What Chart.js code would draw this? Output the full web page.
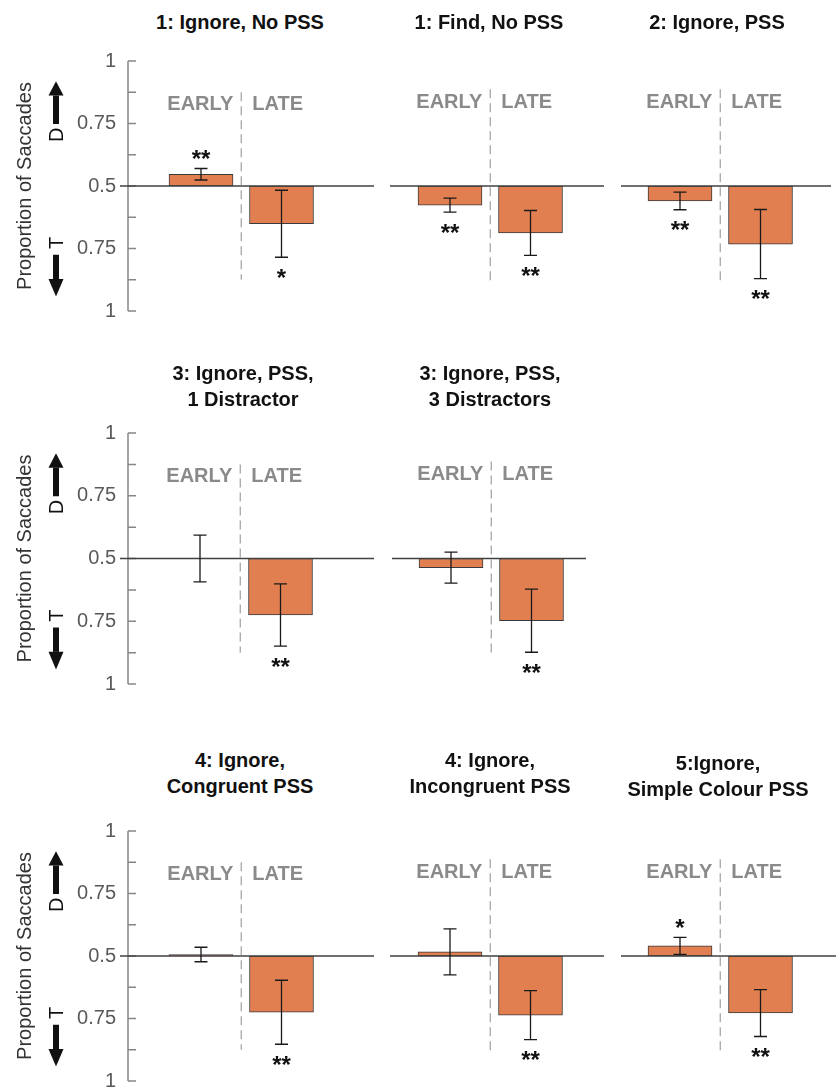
<!DOCTYPE html>
<html>
<head>
<meta charset="utf-8">
<script src="https://cdn.jsdelivr.net/npm/chart.js@4/dist/chart.umd.min.js"></script>
<style>
  body { margin: 0; background: #fff; }
  #wrap { position: relative; width: 836px; height: 1091px; overflow: hidden; }
  #wrap canvas { position: absolute; }
  .ttl { position: absolute; width: 260px; text-align: center; font: bold 20px "Liberation Sans", Arial, sans-serif; line-height: 26px; color: #111; }
</style>
</head>
<body>
<div id="wrap"></div>
<script>
// Data (proportion of saccades to the distractor)
const panelTitles = [
  ['1: Ignore, No PSS'],
  ['1: Find, No PSS'],
  ['2: Ignore, PSS'],
  ['3: Ignore, PSS,', '1 Distractor'],
  ['3: Ignore, PSS,', '3 Distractors'],
  ['4: Ignore,', 'Congruent PSS'],
  ['4: Ignore,', 'Incongruent PSS'],
  ['5:Ignore,', 'Simple Colour PSS']
];
const phases = ['EARLY', 'LATE'];
const earlyMean = [0.547, 0.426, 0.442, 0.500, 0.465, 0.506, 0.516, 0.539];
const lateMean  = [0.349, 0.318, 0.275, 0.275, 0.260, 0.275, 0.271, 0.279];
const earlyErr  = [0.023, 0.027, 0.034, 0.093, 0.060, 0.029, 0.089, 0.033];
const lateErr   = [0.134, 0.087, 0.134, 0.124, 0.122, 0.128, 0.095, 0.091];
const earlySig  = ['**', '**', '**', '', '', '', '', '*'];
const lateSig   = ['*', '**', '**', '**', '**', '**', '**', '**'];
const tickValues = [0, 0.25, 0.5, 0.75, 1];

// Layout of the panels on the page
const rowTop = [57, 429, 827];
const rowBottom = [315, 688, 1085];
const panelBox = [
  { row: 0, left: 128, right: 374, early: 201, axis: true },
  { row: 0, left: 390, right: 604, early: 450 },
  { row: 0, left: 621, right: 831, early: 680 },
  { row: 1, left: 128, right: 374, early: 200, axis: true },
  { row: 1, left: 392, right: 586, early: 451 },
  { row: 2, left: 128, right: 374, early: 201, axis: true },
  { row: 2, left: 390, right: 604, early: 450 },
  { row: 2, left: 621, right: 836, early: 680 }
];
const titlePos = [[240, 22], [489, 22], [717, 22], [243, 373], [490, 373], [240, 760], [490, 760], [718, 763]];
const unitPx = 80.5;

const FONT = '"Liberation Sans", Arial, sans-serif';
const wrap = document.getElementById('wrap');

// Decorations: axis line, zero line, divider, phase labels, error bars, stars
const panelDecor = {
  id: 'panelDecor',
  afterDatasetsDraw(chart, args, opts) {
    const i = opts.index;
    const ctx = chart.ctx;
    const x = chart.scales.x, y = chart.scales.y;
    const area = chart.chartArea;
    ctx.save();

    // vertical axis with inward ticks
    if (opts.axis) {
      ctx.strokeStyle = '#868686';
      ctx.lineWidth = 1.5;
      ctx.beginPath();
      ctx.moveTo(area.left, y.getPixelForValue(0));
      ctx.lineTo(area.left, y.getPixelForValue(1));
      for (let v = 0; v <= 1.0001; v += 0.125) {
        const py = y.getPixelForValue(v);
        ctx.moveTo(area.left, py);
        ctx.lineTo(area.left + 8, py);
      }
      ctx.stroke();

      // D / T direction arrows
      const ax = area.left - 72;
      ctx.fillStyle = '#111';
      const arrow = (from, base, tip) => {
        const pf = y.getPixelForValue(from), pb = y.getPixelForValue(base), pt = y.getPixelForValue(tip);
        ctx.fillRect(ax - 3, Math.min(pf, pb), 6, Math.abs(pb - pf));
        ctx.beginPath();
        ctx.moveTo(ax - 7.5, pb);
        ctx.lineTo(ax + 7.5, pb);
        ctx.lineTo(ax, pt);
        ctx.closePath();
        ctx.fill();
      };
      arrow(0.748, 0.862, 0.919);
      arrow(0.225, 0.128, 0.058);
      ctx.font = '20px ' + FONT;
      ctx.textAlign = 'center';
      ctx.textBaseline = 'middle';
      [['D', 0.705], ['T', 0.272]].forEach(([t, v]) => {
        ctx.save();
        ctx.translate(ax + 1, y.getPixelForValue(v));
        ctx.rotate(-Math.PI / 2);
        ctx.fillText(t, 0, 0);
        ctx.restore();
      });
    }

    // zero (0.5) line
    const py0 = y.getPixelForValue(0.5);
    ctx.strokeStyle = '#404040';
    ctx.lineWidth = 1.5;
    ctx.beginPath();
    ctx.moveTo(opts.axis ? area.left - 8 : area.left, py0);
    ctx.lineTo(area.right, py0);
    ctx.stroke();

    // dashed divider between EARLY and LATE
    const divX = x.getPixelForValue(0.5);
    ctx.strokeStyle = '#a0a0a0';
    ctx.lineWidth = 1.2;
    ctx.setLineDash([9, 5]);
    ctx.beginPath();
    ctx.moveTo(divX, y.getPixelForValue(0.875));
    ctx.lineTo(divX, y.getPixelForValue(0.125));
    ctx.stroke();
    ctx.setLineDash([]);

    // phase labels
    ctx.font = 'bold 20px ' + FONT;
    ctx.fillStyle = '#8a8a8a';
    ctx.textBaseline = 'middle';
    const ly = y.getPixelForValue(0.825);
    ctx.textAlign = 'right';
    ctx.fillText(phases[0], divX - 8, ly);
    ctx.textAlign = 'left';
    ctx.fillText(phases[1], divX + 11, ly);

    // error bars and significance stars
    const means = [earlyMean[i], lateMean[i]];
    const errs = [earlyErr[i], lateErr[i]];
    const sigs = [earlySig[i], lateSig[i]];
    ctx.strokeStyle = '#1a1a1a';
    ctx.lineWidth = 1.3;
    means.forEach((m, k) => {
      const px = x.getPixelForValue(k);
      const top = y.getPixelForValue(m + errs[k]);
      const bot = y.getPixelForValue(m - errs[k]);
      ctx.beginPath();
      ctx.moveTo(px, top); ctx.lineTo(px, bot);
      ctx.moveTo(px - 6.5, top); ctx.lineTo(px + 6.5, top);
      ctx.moveTo(px - 6.5, bot); ctx.lineTo(px + 6.5, bot);
      ctx.stroke();
      if (sigs[k]) {
        ctx.font = 'bold 24px ' + FONT;
        ctx.fillStyle = '#111';
        ctx.textAlign = 'center';
        ctx.textBaseline = 'alphabetic';
        const c = m > 0.5 ? top - 15 : bot + 15;
        ctx.fillText(sigs[k], px, c + 0.57 * 24);
      }
    });
    ctx.restore();
  }
};

panelBox.forEach((b, i) => {
  const top = rowTop[b.row], bottom = rowBottom[b.row];
  const cLeft = b.axis ? 0 : b.left - 10;
  const canvas = document.createElement('canvas');
  canvas.width = b.right + 10 - cLeft;
  canvas.height = bottom - top + 40;
  canvas.style.left = cLeft + 'px';
  canvas.style.top = (top - 20) + 'px';
  wrap.appendChild(canvas);

  const t = document.createElement('div');
  t.className = 'ttl';
  t.style.left = (titlePos[i][0] - 130) + 'px';
  t.style.top = (titlePos[i][1] - 13) + 'px';
  t.innerHTML = panelTitles[i].join('<br>');
  wrap.appendChild(t);

  new Chart(canvas.getContext('2d'), {
    type: 'bar',
    data: {
      datasets: [{
        data: [{ x: 0, y: earlyMean[i] }, { x: 1, y: lateMean[i] }],
        base: 0.5,
        backgroundColor: '#e27f50',
        borderColor: '#3a3a3a',
        borderWidth: 1,
        borderSkipped: false,
        barThickness: 64
      }]
    },
    options: {
      responsive: false,
      animation: false,
      layout: { padding: { left: b.axis ? 0 : 10, right: 10, top: 20, bottom: 20 } },
      scales: {
        x: {
          type: 'linear',
          display: false,
          offset: false,
          bounds: 'data',
          min: -(b.early - b.left) / unitPx,
          max: (b.right - b.early) / unitPx
        },
        y: {
          display: !!b.axis,
          min: 0,
          max: 1,
          afterFit(scale) { if (b.axis) scale.width = 128; },
          afterBuildTicks(scale) { scale.ticks = tickValues.map(v => ({ value: v })); },
          grid: { display: false, drawTicks: false },
          border: { display: false },
          ticks: {
            padding: 12,
            color: '#595959',
            font: { family: FONT, size: 20 },
            callback: v => String(Math.round((v >= 0.5 ? v : 1 - v) * 100) / 100)
          },
          title: {
            display: true,
            text: 'Proportion of Saccades',
            color: '#333',
            font: { family: FONT, size: 20 },
            padding: { top: 13, bottom: 0 }
          }
        }
      },
      plugins: {
        legend: { display: false },
        tooltip: { enabled: false },
        panelDecor: { index: i, axis: !!b.axis }
      }
    },
    plugins: [panelDecor]
  });
});
</script>
</body>
</html>
